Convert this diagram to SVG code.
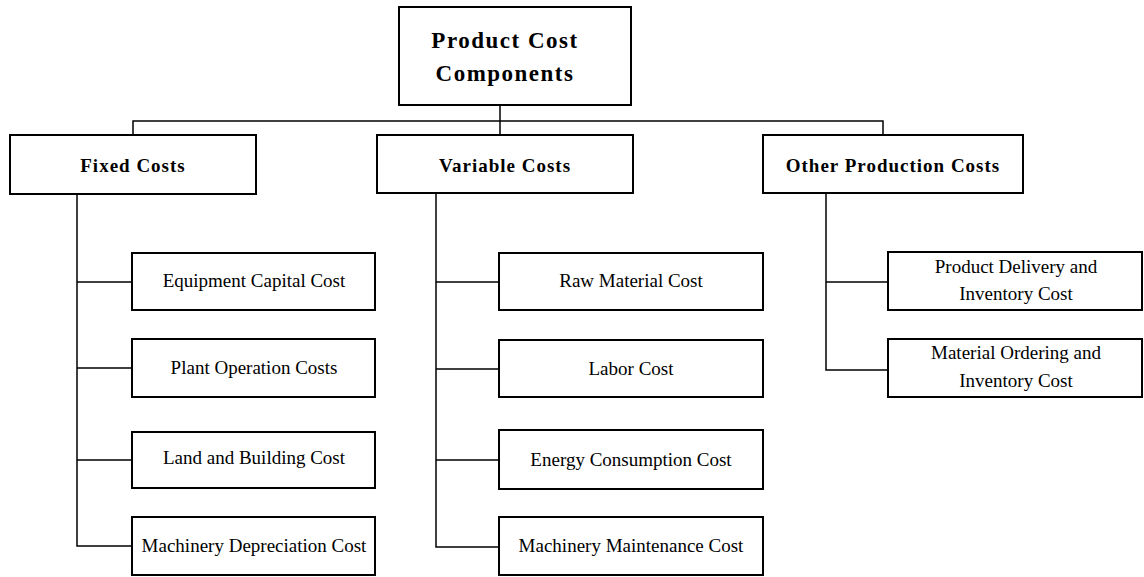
<svg xmlns="http://www.w3.org/2000/svg" width="1144" height="577" viewBox="0 0 1144 577">
<style>
  .box { fill: #fff; stroke: #000; stroke-width: 2; }
  .con { fill: none; stroke: #000; stroke-width: 1.5; }
  .t { font-family: "Liberation Serif", "Times New Roman", serif; fill: #000; text-anchor: middle; }
  .title { font-size: 23px; font-weight: bold; letter-spacing: 1.5px; }
  .hdr { font-size: 19px; font-weight: bold; letter-spacing: 1px; }
  .lbl { font-size: 19px; }
</style>
<rect width="1144" height="577" fill="#fff"/>
<g id="connectors">
  <path class="con" d="M500 106 V121"/>
  <path class="con" d="M133 135 V121 H883 V135"/>
  <path class="con" d="M500 121 V135"/>
  <path class="con" d="M77 194 V546 H132"/>
  <path class="con" d="M77 282 H132 M77 368 H132 M77 460 H132"/>
  <path class="con" d="M436 193 V547 H499"/>
  <path class="con" d="M436 282 H499 M436 369 H499 M436 460 H499"/>
  <path class="con" d="M826 193 V370 H888"/>
  <path class="con" d="M826 282 H888"/>
</g>
<g id="root">
  <rect class="box" x="399" y="7" width="232" height="98"/>
  <text class="t title" x="505" y="48">Product Cost</text>
  <text class="t title" x="505" y="81">Components</text>
</g>
<g id="fixed">
  <rect class="box" x="10" y="135" width="246" height="59"/>
  <text class="t hdr" x="133" y="172">Fixed Costs</text>
</g>
<g id="variable">
  <rect class="box" x="377" y="135" width="256" height="58"/>
  <text class="t hdr" x="505" y="172">Variable Costs</text>
</g>
<g id="other">
  <rect class="box" x="763" y="135" width="260" height="58"/>
  <text class="t hdr" x="893" y="172">Other Production Costs</text>
</g>
<g id="equipment">
  <rect class="box" x="132" y="253" width="243" height="57"/>
  <text class="t lbl" x="254" y="287">Equipment Capital Cost</text>
</g>
<g id="plant">
  <rect class="box" x="132" y="339" width="243" height="58"/>
  <text class="t lbl" x="254" y="374">Plant Operation Costs</text>
</g>
<g id="land">
  <rect class="box" x="132" y="432" width="243" height="56"/>
  <text class="t lbl" x="254" y="464">Land and Building Cost</text>
</g>
<g id="depreciation">
  <rect class="box" x="132" y="517" width="243" height="58"/>
  <text class="t lbl" x="254" y="552">Machinery Depreciation Cost</text>
</g>
<g id="raw">
  <rect class="box" x="499" y="253" width="264" height="57"/>
  <text class="t lbl" x="631" y="287">Raw Material Cost</text>
</g>
<g id="labor">
  <rect class="box" x="499" y="340" width="264" height="57"/>
  <text class="t lbl" x="631" y="375">Labor Cost</text>
</g>
<g id="energy">
  <rect class="box" x="499" y="430" width="264" height="59"/>
  <text class="t lbl" x="631" y="466">Energy Consumption Cost</text>
</g>
<g id="maintenance">
  <rect class="box" x="499" y="517" width="264" height="58"/>
  <text class="t lbl" x="631" y="552">Machinery Maintenance Cost</text>
</g>
<g id="delivery">
  <rect class="box" x="888" y="252" width="254" height="58"/>
  <text class="t lbl" x="1016" y="273">Product Delivery and</text>
  <text class="t lbl" x="1016" y="300">Inventory Cost</text>
</g>
<g id="ordering">
  <rect class="box" x="888" y="339" width="254" height="58"/>
  <text class="t lbl" x="1016" y="359">Material Ordering and</text>
  <text class="t lbl" x="1016" y="387">Inventory Cost</text>
</g>
</svg>
